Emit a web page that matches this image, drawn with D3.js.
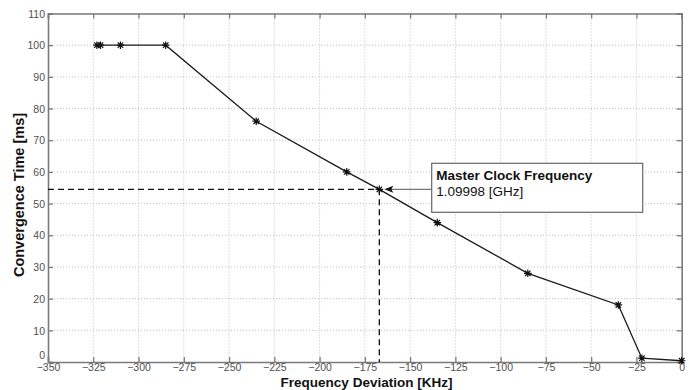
<!DOCTYPE html>
<html><head><meta charset="utf-8">
<script src="https://cdn.jsdelivr.net/npm/d3@7"></script>
<style>body{margin:0;background:#fff}svg{display:block}</style>
</head><body>
<svg id="c" width="693" height="390"></svg>
<script>
const freqDev = [-323, -321, -310, -285, -235, -185, -167, -135, -85, -35, -22, 0];
const convTime = [100, 100, 100, 100, 76, 60, 54.5, 44, 28, 18, 1.2, 0.4];
const xTicks = [-350,-325,-300,-275,-250,-225,-200,-175,-150,-125,-100,-75,-50,-25,0];
const yTicks = [0,10,20,30,40,50,60,70,80,90,100,110];
const markPoint = {x: -167, y: 54.5};
const annotation = ["Master Clock Frequency", "1.09998 [GHz]"];
const xLabel = "Frequency Deviation [KHz]";
const yLabel = "Convergence Time [ms]";

const svg = d3.select("#c");
const L = 48, T = 13.5, R = 681.7, B = 362;
const x = d3.scaleLinear().domain([-350, 0]).range([L, R]);
const y = d3.scaleLinear().domain([0, 110]).range([B, T]);
const axisCol = "#7a7a7a", font = "Liberation Sans, Arial, sans-serif";

// grid
const g = svg.append("g");
g.selectAll(".gx").data(xTicks.slice(1, -1)).join("line")
  .attr("x1", d => x(d)).attr("x2", d => x(d)).attr("y1", T).attr("y2", B)
  .attr("stroke", "#b0b0b0").attr("stroke-width", 0.8).attr("stroke-dasharray", "1,2");
g.selectAll(".gy").data(yTicks.slice(1, -1)).join("line")
  .attr("y1", d => y(d)).attr("y2", d => y(d)).attr("x1", L).attr("x2", R)
  .attr("stroke", "#b0b0b0").attr("stroke-width", 0.8).attr("stroke-dasharray", "1,2");

// axes
const ax = svg.append("g").attr("transform", `translate(0,${B})`)
  .call(d3.axisBottom(x).tickValues(xTicks).tickSize(-5).tickPadding(2).tickFormat(d3.format("d")));
const axT = svg.append("g").attr("transform", `translate(0,${T})`)
  .call(d3.axisTop(x).tickValues(xTicks).tickSize(-5).tickFormat(""));
const ay = svg.append("g").attr("transform", `translate(${L},0)`)
  .call(d3.axisLeft(y).tickValues(yTicks).tickSize(-5).tickPadding(3).tickFormat(d3.format("d")));
const ayR = svg.append("g").attr("transform", `translate(${R},0)`)
  .call(d3.axisRight(y).tickValues(yTicks).tickSize(-5).tickFormat(""));
[ax, axT, ay, ayR].forEach(a => {
  a.selectAll("path").attr("stroke", axisCol).attr("stroke-width", 1.6);
  a.selectAll("line").attr("stroke", axisCol).attr("stroke-width", 1.3);
  a.selectAll("text").attr("fill", "#505050").attr("font-family", font).attr("font-size", 10.5);
});
ax.selectAll("text").attr("dy", "0.71em");
ay.selectAll("text").attr("dy", "0.35em");
ay.selectAll("text").filter(d => d === 0).attr("dy", "-0.3em");

// dashed guide lines
svg.append("line").attr("x1", L).attr("x2", x(markPoint.x)).attr("y1", y(markPoint.y)).attr("y2", y(markPoint.y))
  .attr("stroke", "#111").attr("stroke-width", 1.3).attr("stroke-dasharray", "6,4");
svg.append("line").attr("x1", x(markPoint.x)).attr("x2", x(markPoint.x)).attr("y1", y(markPoint.y)).attr("y2", B)
  .attr("stroke", "#111").attr("stroke-width", 1.3).attr("stroke-dasharray", "6,4");

// line
const data = freqDev.map((d, i) => ({x: d, y: convTime[i]}));
svg.append("path").datum(data)
  .attr("d", d3.line().x(d => x(d.x)).y(d => y(d.y)))
  .attr("fill", "none").attr("stroke", "#1a1a1a").attr("stroke-width", 1.3);

// asterisk markers
const r = 3.8, r2 = r * 0.72;
svg.selectAll(".m").data(data).join("path")
  .attr("transform", d => `translate(${x(d.x)},${y(d.y)})`)
  .attr("d", `M${-r},0L${r},0M0,${-r}L0,${r}M${-r2},${-r2}L${r2},${r2}M${-r2},${r2}L${r2},${-r2}`)
  .attr("stroke", "#111").attr("stroke-width", 1.2).attr("fill", "none");

// annotation
const bx = 431.7, by = 163.3, bw = 211, bh = 49;
const ay0 = y(markPoint.y);
svg.append("line").attr("x1", bx).attr("x2", x(markPoint.x) + 10).attr("y1", ay0).attr("y2", ay0)
  .attr("stroke", "#777").attr("stroke-width", 1.2);
const tipX = x(markPoint.x) + 5;
svg.append("path").attr("d", `M${tipX},${ay0}L${tipX + 9},${ay0 - 3.5}L${tipX + 7},${ay0}L${tipX + 9},${ay0 + 3.5}Z`)
  .attr("fill", "#111");
svg.append("rect").attr("x", bx).attr("y", by).attr("width", bw).attr("height", bh)
  .attr("fill", "#fff").attr("stroke", "#666").attr("stroke-width", 1.2);
svg.append("text").attr("x", bx + 4.5).attr("y", by + 16.5).text(annotation[0])
  .attr("font-family", font).attr("font-size", 13.5).attr("font-weight", "bold").attr("fill", "#111");
svg.append("text").attr("x", bx + 4.5).attr("y", by + 33).text(annotation[1])
  .attr("font-family", font).attr("font-size", 13.5).attr("fill", "#111");

// axis labels
svg.append("text").attr("x", 366.5).attr("y", 387).attr("text-anchor", "middle")
  .attr("font-family", font).attr("font-size", 13.5).attr("font-weight", "bold").attr("fill", "#111").text(xLabel);
svg.append("text").attr("transform", `translate(23.5,195) rotate(-90)`).attr("text-anchor", "middle")
  .attr("font-family", font).attr("font-size", 14.5).attr("font-weight", "bold").attr("fill", "#111").text(yLabel);
</script>
</body></html>
